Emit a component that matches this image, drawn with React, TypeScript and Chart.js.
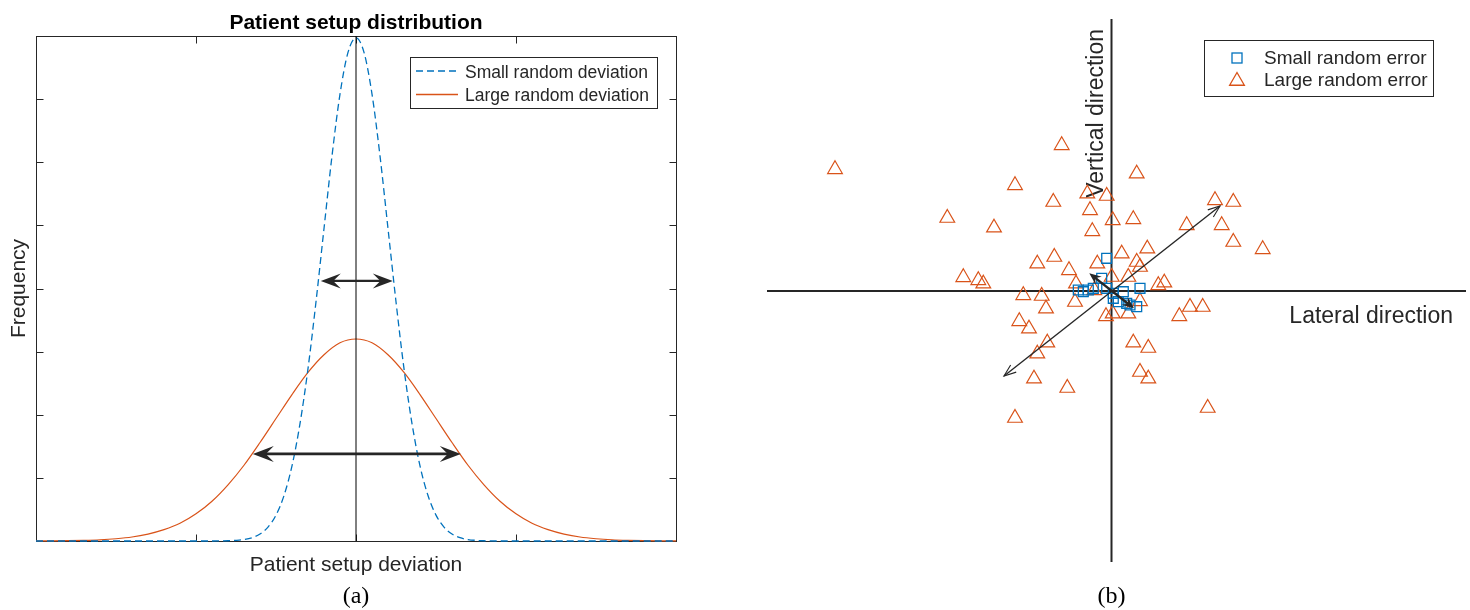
import React, { useEffect, useRef } from 'react';
import { Chart, registerables } from 'chart.js';
Chart.register(...registerables);

const SANS = '"Liberation Sans", Arial, Helvetica, sans-serif';
const SERIF = '"Liberation Serif", "Times New Roman", serif';
const AXIS_COLOR = '#262626';
const BLUE = '#0072BD';
const ORANGE = '#D95319';

// ---------- Panel (a): patient setup distribution ----------
const smallDevX = [-2, -0.9, -0.8, -0.75, -0.7, -0.65, -0.6, -0.55, -0.5, -0.45, -0.4, -0.35, -0.3, -0.25, -0.2, -0.15, -0.1, -0.05, 0,
  0.05, 0.1, 0.15, 0.2, 0.25, 0.3, 0.35, 0.4, 0.45, 0.5, 0.55, 0.6, 0.65, 0.7, 0.75, 0.8, 0.9, 2];
const smallFreq = [0, 0, 0.004, 0.01, 0.023, 0.052, 0.11, 0.22, 0.41, 0.72, 1.19, 1.86, 2.73, 3.79, 4.95, 6.1, 7.08, 7.74, 7.97,
  7.74, 7.08, 6.1, 4.95, 3.79, 2.73, 1.86, 1.19, 0.72, 0.41, 0.22, 0.11, 0.052, 0.023, 0.01, 0.004, 0, 0];
const largeDevX = [-2, -1.9, -1.8, -1.7, -1.6, -1.5, -1.4, -1.3, -1.2, -1.1, -1, -0.9, -0.8, -0.7, -0.6, -0.5, -0.4, -0.3, -0.2, -0.1, 0,
  0.1, 0.2, 0.3, 0.4, 0.5, 0.6, 0.7, 0.8, 0.9, 1, 1.1, 1.2, 1.3, 1.4, 1.5, 1.6, 1.7, 1.8, 1.9, 2];
const largeFreq = [0.001, 0.002, 0.005, 0.01, 0.019, 0.036, 0.063, 0.11, 0.18, 0.28, 0.43, 0.63, 0.89, 1.2, 1.56, 1.94, 2.32, 2.67, 2.95, 3.14, 3.2,
  3.14, 2.95, 2.67, 2.32, 1.94, 1.56, 1.2, 0.89, 0.63, 0.43, 0.28, 0.18, 0.11, 0.063, 0.036, 0.019, 0.01, 0.005, 0.002, 0.001];
const centerLineX = [0, 0];
const centerLineY = [0, 8];
const devTicks = [-1, 0, 1];
const freqTicks = [1, 2, 3, 4, 5, 6, 7];
const narrowSpanX = [-0.22, 0.23];
const narrowSpanY = [4.12, 4.12];
const wideSpanX = [-0.645, 0.655];
const wideSpanY = [1.38, 1.38];
const seriesNamesA = ['Small random deviation', 'Large random deviation'];

// ---------- Panel (b): setup error scatter ----------
const smallLat = [-0.48, -0.98, -3.32, -2.82, -2.32, -1.82, -0.48, 0.18, 1.18, 2.85, 0.68, 1.52, 2.52, 0.18, 1.85];
const smallVert = [3.27, 1.27, 0.1, -0.07, 0.1, 0.27, 0.27, -0.23, -0.07, 0.27, -1.07, -1.23, -1.57, -0.73, -1.4];
const largeLat = [-27.65, -16.42, -11.75, -14.82, -13.32, -12.82, -4.98, -9.65, -5.82, -2.42, -0.48, -2.15, 0.12, -1.92, -5.72,
  -7.42, -4.25, -1.42, 0.02, -3.55, -8.82, -6.98, 2.52, 10.35, 12.18, 2.18, 7.52, 11.02, 12.18, 15.12, 3.58, 1.02, 2.52, 2.85,
  1.68, 4.68, 5.28, 2.85, 7.85, 9.12, 6.78, 1.68, 2.18, 3.68, 2.85, 3.68, 9.62, -3.65, -6.55, -9.22, -8.25, -6.42, -7.42, -7.75,
  -4.42, -9.65, -0.55, 0.12, -1.72];
const largeVert = [12.17, 7.3, 6.33, 1.37, 1.07, 0.73, 14.57, 10.57, 8.9, 9.73, 9.5, 8.07, 7.07, 5.97, 3.4,
  2.73, 2.07, 2.73, 1.4, 0.73, -0.43, -0.5, 11.73, 9.07, 8.9, 7.17, 6.57, 6.57, 4.9, 4.17, 4.23, 3.73, 2.9, 2.4,
  1.4, 0.57, 0.83, -1.03, -1.6, -1.6, -2.53, -2.27, -5.17, -5.7, -8.1, -8.77, -11.7, -1.1, -1.77, -3.03, -3.77, -5.17, -6.27, -8.77,
  -9.7, -12.7, -2.53, -2.27, 0.07];
const longArrowLat = [-10.75, 10.85];
const longArrowVert = [-8.5, 8.5];
const shortArrowLat = [-2.22, 2.25];
const shortArrowVert = [1.77, -1.73];
const seriesNamesB = ['Small random error', 'Large random error'];

const toPoints = (xs: number[], ys: number[]) => xs.map((x, i) => ({ x, y: ys[i] }));

function filledHead(ctx: CanvasRenderingContext2D, tx: number, ty: number, ux: number, uy: number, len: number, hw: number) {
  const px = -uy, py = ux;
  const bx = tx - ux * len, by = ty - uy * len;
  const nx = tx - ux * len * 0.62, ny = ty - uy * len * 0.62;
  ctx.beginPath();
  ctx.moveTo(tx, ty);
  ctx.lineTo(bx + px * hw, by + py * hw);
  ctx.lineTo(nx, ny);
  ctx.lineTo(bx - px * hw, by - py * hw);
  ctx.closePath();
  ctx.fill();
}

function openHead(ctx: CanvasRenderingContext2D, tx: number, ty: number, ux: number, uy: number, len: number, hw: number) {
  const px = -uy, py = ux;
  const bx = tx - ux * len, by = ty - uy * len;
  ctx.beginPath();
  ctx.moveTo(bx + px * hw, by + py * hw);
  ctx.lineTo(tx, ty);
  ctx.lineTo(bx - px * hw, by - py * hw);
  ctx.stroke();
}

function doubleArrow(ctx: CanvasRenderingContext2D, x1: number, y1: number, x2: number, y2: number,
  width: number, len: number, hw: number, filled: boolean) {
  const d = Math.hypot(x2 - x1, y2 - y1);
  const ux = (x2 - x1) / d, uy = (y2 - y1) / d;
  ctx.save();
  ctx.strokeStyle = AXIS_COLOR;
  ctx.fillStyle = AXIS_COLOR;
  ctx.lineWidth = width;
  ctx.lineCap = 'butt';
  const inset = filled ? len * 0.55 : 0;
  ctx.beginPath();
  ctx.moveTo(x1 + ux * inset, y1 + uy * inset);
  ctx.lineTo(x2 - ux * inset, y2 - uy * inset);
  ctx.stroke();
  if (filled) {
    filledHead(ctx, x2, y2, ux, uy, len, hw);
    filledHead(ctx, x1, y1, -ux, -uy, len, hw);
  } else {
    ctx.lineWidth = 1.1;
    openHead(ctx, x2, y2, ux, uy, len, hw);
    openHead(ctx, x1, y1, -ux, -uy, len, hw);
  }
  ctx.restore();
}

const panelAPlugin = {
  id: 'panelA',
  beforeDatasetsDraw(chart: any) {
    const { ctx, chartArea: ca, scales } = chart;
    const xs = scales.x, ys = scales.y;
    ctx.save();
    ctx.strokeStyle = AXIS_COLOR;
    ctx.lineWidth = 1;
    const l = Math.round(ca.left) + 0.5, t = Math.round(ca.top) + 0.5;
    const r = Math.round(ca.right) + 0.5, b = Math.round(ca.bottom) + 0.5;
    ctx.strokeRect(l, t, r - l, b - t);
    const tl = 7;
    ctx.beginPath();
    devTicks.forEach(v => {
      const p = Math.round(xs.getPixelForValue(v)) + 0.5;
      ctx.moveTo(p, b); ctx.lineTo(p, b - tl);
      ctx.moveTo(p, t); ctx.lineTo(p, t + tl);
    });
    freqTicks.forEach(v => {
      const p = Math.round(ys.getPixelForValue(v)) + 0.5;
      ctx.moveTo(l, p); ctx.lineTo(l + tl, p);
      ctx.moveTo(r, p); ctx.lineTo(r - tl, p);
    });
    ctx.stroke();
    ctx.restore();
  },
  afterDatasetsDraw(chart: any) {
    const { ctx, chartArea: ca, scales } = chart;
    const xs = scales.x, ys = scales.y;
    doubleArrow(ctx, xs.getPixelForValue(narrowSpanX[0]), ys.getPixelForValue(narrowSpanY[0]),
      xs.getPixelForValue(narrowSpanX[1]), ys.getPixelForValue(narrowSpanY[1]), 2.2, 20, 7.5, true);
    doubleArrow(ctx, xs.getPixelForValue(wideSpanX[0]), ys.getPixelForValue(wideSpanY[0]),
      xs.getPixelForValue(wideSpanX[1]), ys.getPixelForValue(wideSpanY[1]), 2.6, 21, 8, true);

    ctx.save();
    const bl = ca.right - 266, bt = ca.top + 21, bw = 247, bh = 51;
    ctx.fillStyle = '#fff';
    ctx.fillRect(bl, bt, bw, bh);
    ctx.strokeStyle = AXIS_COLOR;
    ctx.lineWidth = 1;
    ctx.strokeRect(Math.round(bl) + 0.5, Math.round(bt) + 0.5, bw, bh);
    const rows = [bt + 14, bt + 37.5];
    const colors = [BLUE, ORANGE];
    ctx.font = `17.5px ${SANS}`;
    ctx.textBaseline = 'alphabetic';
    ctx.textAlign = 'left';
    rows.forEach((ry, i) => {
      ctx.strokeStyle = colors[i];
      ctx.lineWidth = 1.3;
      ctx.setLineDash(i === 0 ? [7, 4] : []);
      ctx.beginPath();
      ctx.moveTo(bl + 6, ry); ctx.lineTo(bl + 48, ry);
      ctx.stroke();
      ctx.setLineDash([]);
      ctx.fillStyle = AXIS_COLOR;
      ctx.fillText(seriesNamesA[i], bl + 55, ry + 6.5);
    });
    ctx.restore();
  },
  afterDraw(chart: any) {
    const { ctx, chartArea: ca, scales } = chart;
    const cx = scales.x.getPixelForValue(0);
    ctx.save();
    ctx.fillStyle = '#000';
    ctx.textAlign = 'center';
    ctx.textBaseline = 'alphabetic';
    ctx.font = `bold 21px ${SANS}`;
    ctx.fillText('Patient setup distribution', cx, 28.5);
    ctx.fillStyle = AXIS_COLOR;
    ctx.font = `21px ${SANS}`;
    ctx.fillText('Patient setup deviation', cx, 571);
    ctx.save();
    ctx.translate(24.5, (ca.top + ca.bottom) / 2);
    ctx.rotate(-Math.PI / 2);
    ctx.fillText('Frequency', 0, 0);
    ctx.restore();
    ctx.fillStyle = '#000';
    ctx.font = `24px ${SERIF}`;
    ctx.fillText('(a)', cx, 603);
    ctx.restore();
  },
};

const panelBPlugin = {
  id: 'panelB',
  beforeDatasetsDraw(chart: any) {
    const { ctx, chartArea: ca, scales } = chart;
    const x0 = scales.x.getPixelForValue(0);
    const y0 = scales.y.getPixelForValue(0);
    ctx.save();
    ctx.strokeStyle = AXIS_COLOR;
    ctx.lineWidth = 2;
    ctx.beginPath();
    ctx.moveTo(ca.left, y0); ctx.lineTo(ca.right, y0);
    ctx.moveTo(x0, ca.top); ctx.lineTo(x0, ca.bottom);
    ctx.stroke();
    ctx.fillStyle = AXIS_COLOR;
    ctx.font = `23px ${SANS}`;
    ctx.textBaseline = 'alphabetic';
    ctx.textAlign = 'right';
    ctx.fillText('Lateral direction', ca.right - 13, y0 + 32);
    ctx.save();
    ctx.translate(x0 - 8.5, 29);
    ctx.rotate(-Math.PI / 2);
    ctx.textAlign = 'right';
    ctx.fillText('Vertical direction', 0, 0);
    ctx.restore();
    ctx.restore();
  },
  afterDatasetsDraw(chart: any) {
    const { ctx, chartArea: ca, scales } = chart;
    const xs = scales.x, ys = scales.y;
    doubleArrow(ctx, xs.getPixelForValue(longArrowLat[0]), ys.getPixelForValue(longArrowVert[0]),
      xs.getPixelForValue(longArrowLat[1]), ys.getPixelForValue(longArrowVert[1]), 1.4, 12, 4.5, false);
    doubleArrow(ctx, xs.getPixelForValue(shortArrowLat[0]), ys.getPixelForValue(shortArrowVert[0]),
      xs.getPixelForValue(shortArrowLat[1]), ys.getPixelForValue(shortArrowVert[1]), 2.4, 12, 5, true);

    ctx.save();
    const bl = ca.right - 262, bt = ca.top + 21, bw = 229, bh = 56;
    ctx.fillStyle = '#fff';
    ctx.fillRect(bl, bt, bw, bh);
    ctx.strokeStyle = AXIS_COLOR;
    ctx.lineWidth = 1;
    ctx.strokeRect(Math.round(bl) + 0.5, Math.round(bt) + 0.5, bw, bh);
    const mx = bl + 33;
    const r1 = bt + 18, r2 = bt + 41;
    ctx.strokeStyle = BLUE;
    ctx.lineWidth = 1.3;
    ctx.strokeRect(mx - 5, r1 - 5, 10, 10);
    const tr = 8.5;
    ctx.strokeStyle = ORANGE;
    ctx.beginPath();
    ctx.moveTo(mx, r2 - tr);
    ctx.lineTo(mx + tr * Math.sin(Math.PI / 3), r2 + tr / 2);
    ctx.lineTo(mx - tr * Math.sin(Math.PI / 3), r2 + tr / 2);
    ctx.closePath();
    ctx.stroke();
    ctx.fillStyle = AXIS_COLOR;
    ctx.font = `19px ${SANS}`;
    ctx.textAlign = 'left';
    ctx.textBaseline = 'alphabetic';
    ctx.fillText(seriesNamesB[0], bl + 60, bt + 23.5);
    ctx.fillText(seriesNamesB[1], bl + 60, bt + 45.5);
    ctx.restore();
  },
  afterDraw(chart: any) {
    const { ctx, scales } = chart;
    const x0 = scales.x.getPixelForValue(0);
    ctx.save();
    ctx.fillStyle = '#000';
    ctx.font = `24px ${SERIF}`;
    ctx.textAlign = 'center';
    ctx.textBaseline = 'alphabetic';
    ctx.fillText('(b)', x0, 603);
    ctx.restore();
  },
};

export default function App() {
  const refA = useRef<HTMLCanvasElement>(null);
  const refB = useRef<HTMLCanvasElement>(null);

  useEffect(() => {
    const chartA = new Chart(refA.current as HTMLCanvasElement, {
      type: 'line',
      data: {
        datasets: [
          {
            label: 'center',
            data: toPoints(centerLineX, centerLineY),
            borderColor: '#000',
            borderWidth: 1,
            pointRadius: 0,
            clip: false,
          } as any,
          {
            label: seriesNamesA[0],
            data: toPoints(smallDevX, smallFreq),
            borderColor: BLUE,
            borderWidth: 1.3,
            borderDash: [7, 4],
            pointRadius: 0,
            cubicInterpolationMode: 'monotone',
            clip: false,
          } as any,
          {
            label: seriesNamesA[1],
            data: toPoints(largeDevX, largeFreq),
            borderColor: ORANGE,
            borderWidth: 1.2,
            pointRadius: 0,
            cubicInterpolationMode: 'monotone',
            clip: false,
          } as any,
        ],
      },
      options: {
        responsive: false,
        devicePixelRatio: 1,
        animation: false,
        events: [],
        layout: { autoPadding: false, padding: { left: 36, right: 64, top: 36, bottom: 69 } },
        plugins: { legend: { display: false }, tooltip: { enabled: false } },
        scales: {
          x: { type: 'linear', display: false, min: -2, max: 2 },
          y: { type: 'linear', display: false, min: 0, max: 8 },
        },
      },
      plugins: [panelAPlugin],
    } as any);

    const chartB = new Chart(refB.current as HTMLCanvasElement, {
      type: 'scatter',
      data: {
        datasets: [
          {
            label: seriesNamesB[0],
            data: toPoints(smallLat, smallVert),
            pointStyle: 'rect',
            pointRadius: 7,
            borderColor: BLUE,
            backgroundColor: 'rgba(0,0,0,0)',
            borderWidth: 1.3,
          } as any,
          {
            label: seriesNamesB[1],
            data: toPoints(largeLat, largeVert),
            pointStyle: 'triangle',
            pointRadius: 8.5,
            borderColor: ORANGE,
            backgroundColor: 'rgba(0,0,0,0)',
            borderWidth: 1.2,
          } as any,
        ],
      },
      options: {
        responsive: false,
        devicePixelRatio: 1,
        animation: false,
        events: [],
        layout: { autoPadding: false, padding: { left: 27, right: 4, top: 19, bottom: 48 } },
        plugins: { legend: { display: false }, tooltip: { enabled: false } },
        scales: {
          x: { type: 'linear', display: false, min: -34.45, max: 35.45 },
          y: { type: 'linear', display: false, min: -27.1, max: 27.2 },
        },
      },
      plugins: [panelBPlugin],
    } as any);

    return () => {
      chartA.destroy();
      chartB.destroy();
    };
  }, []);

  return (
    <div style={{ position: 'fixed', left: 0, top: 0, width: 1470, height: 610, background: '#fff' }}>
      <canvas ref={refA} width={740} height={610}
        style={{ position: 'absolute', left: 0, top: 0, width: 740, height: 610 }} />
      <canvas ref={refB} width={730} height={610}
        style={{ position: 'absolute', left: 740, top: 0, width: 730, height: 610 }} />
    </div>
  );
}
